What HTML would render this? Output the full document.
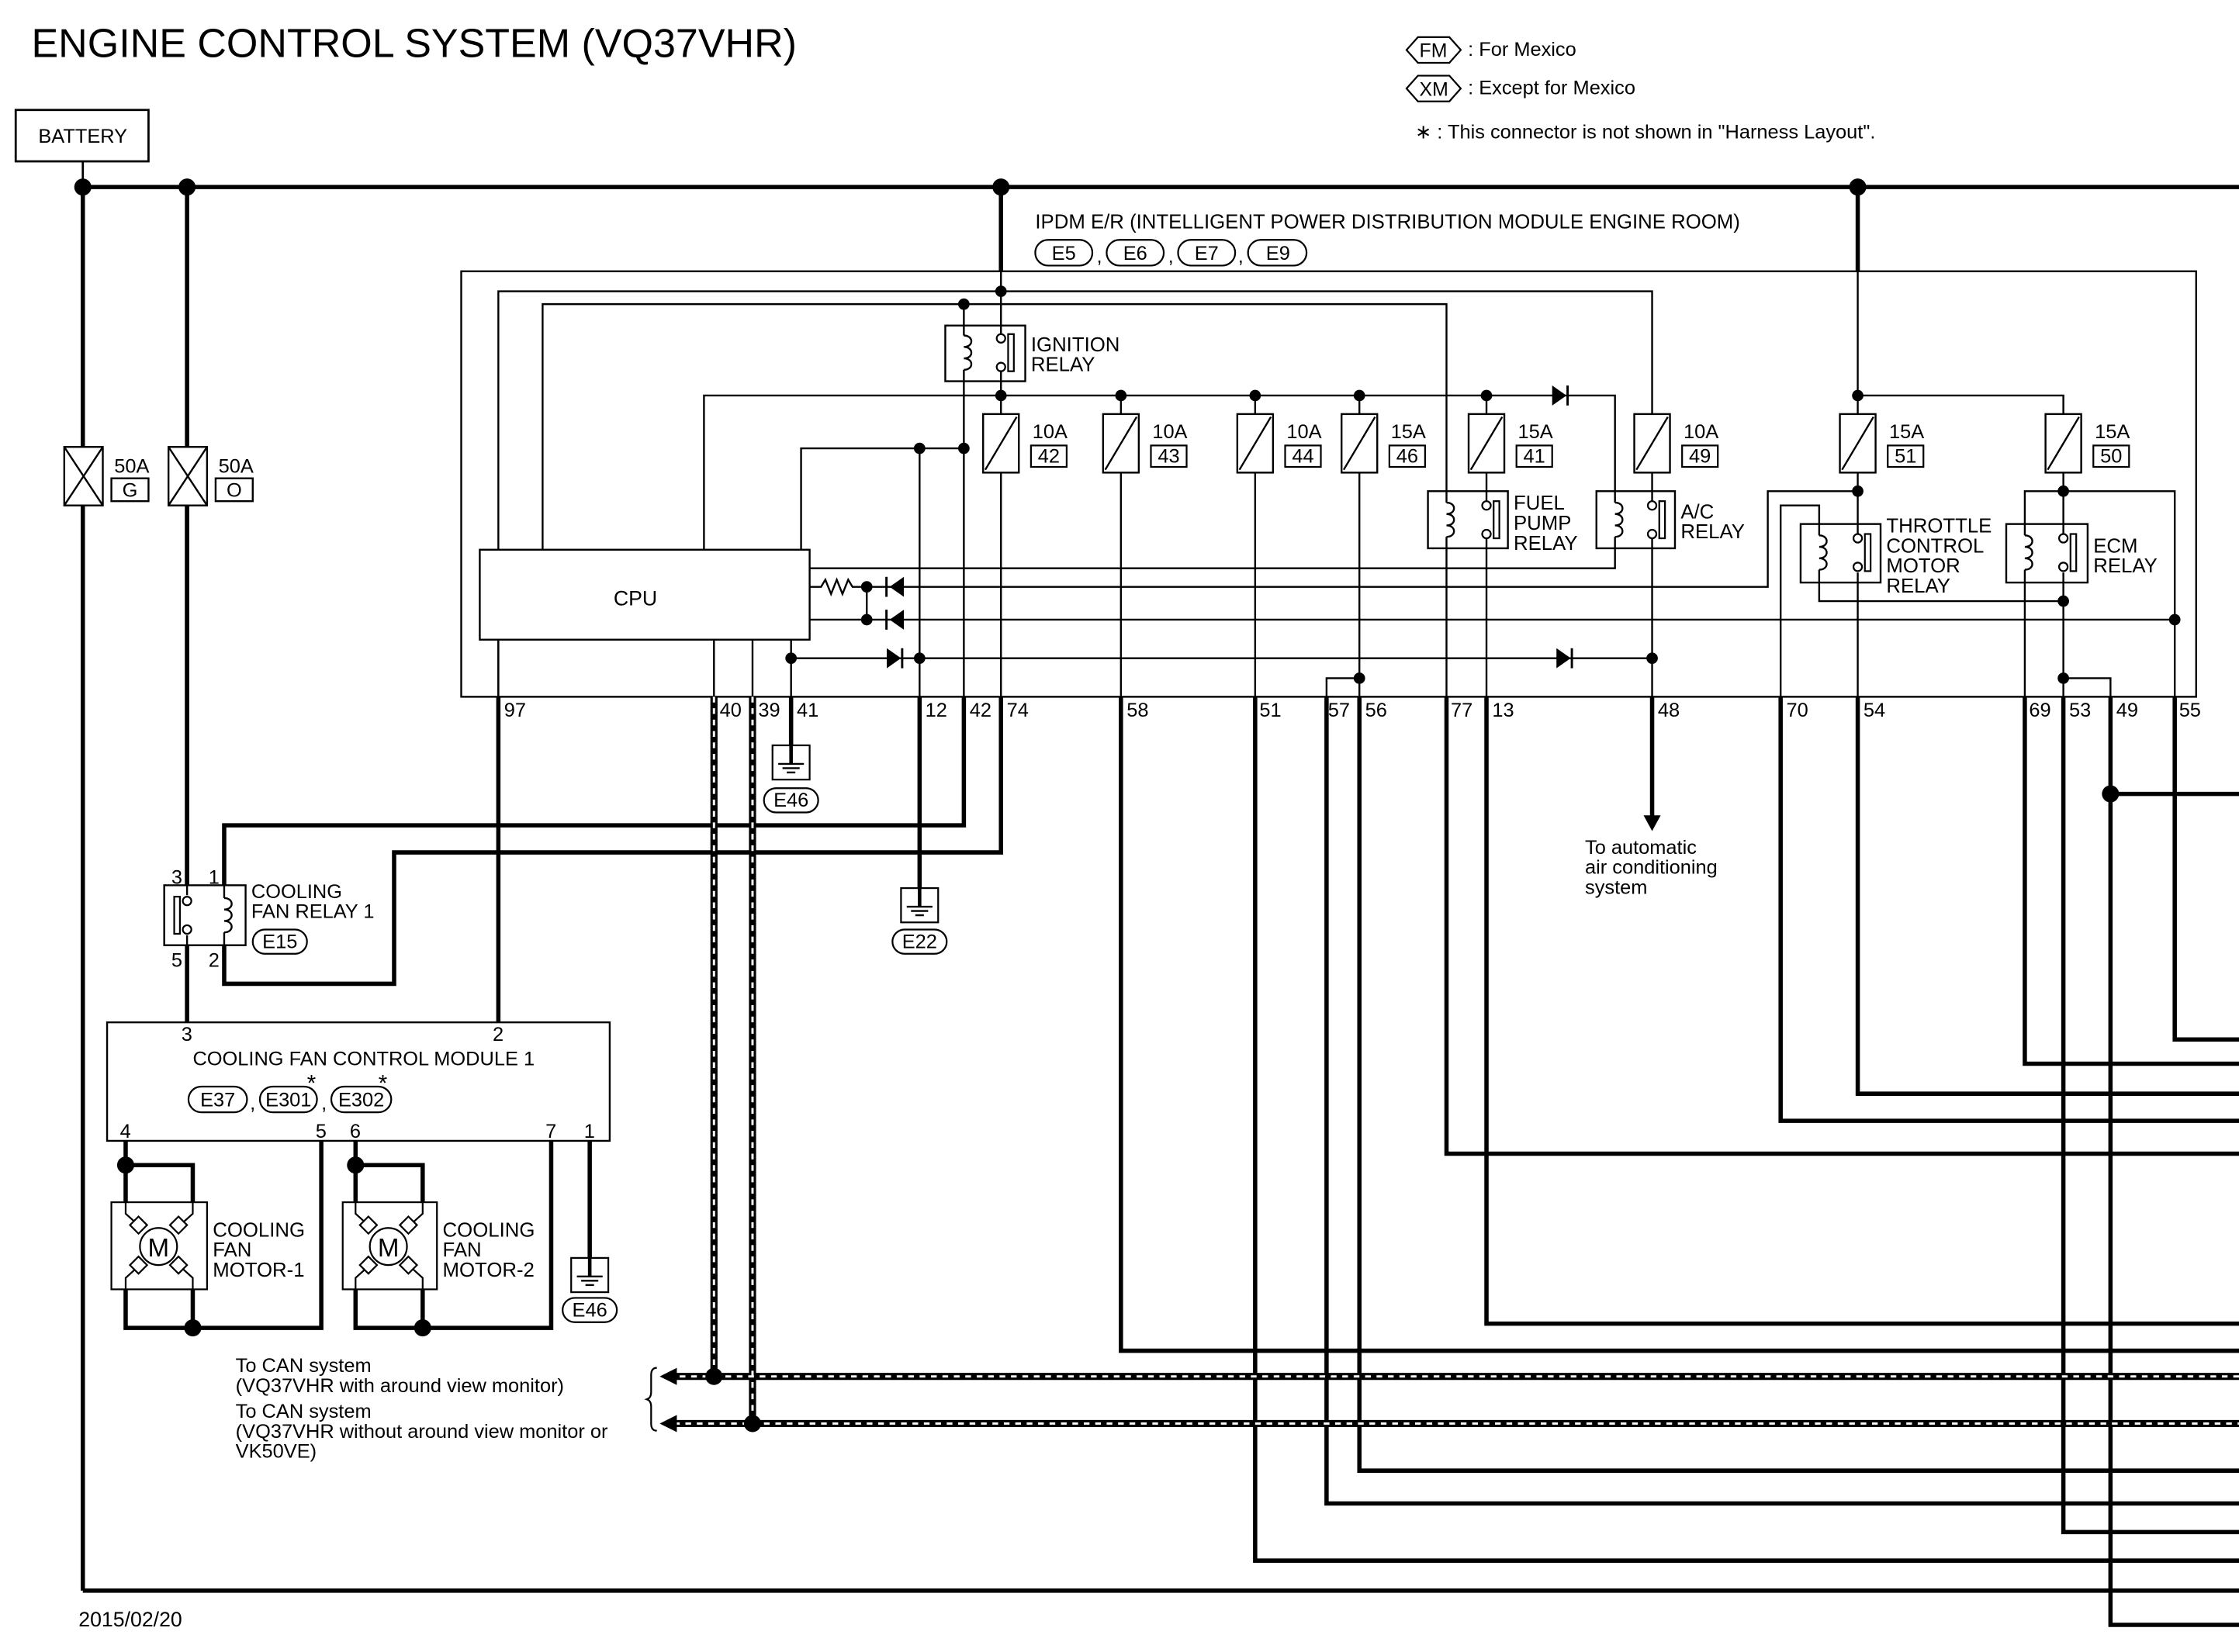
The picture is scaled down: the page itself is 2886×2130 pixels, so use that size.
<!DOCTYPE html>
<html><head><meta charset="utf-8"><style>
html,body{margin:0;padding:0;background:#fff;}
svg{display:block;}
text{font-family:"Liberation Sans",sans-serif;fill:#000;}
</style></head><body>
<svg xmlns="http://www.w3.org/2000/svg" width="2886" height="2130" viewBox="0 0 1568 1157" preserveAspectRatio="none">
<defs>
<g id="coil"><path d="M0,-12 c7,0 7,8 0,8 c7,0 7,8 0,8 c7,0 7,8 0,8" fill="none" stroke="#000" stroke-width="1.3"/></g>
<g id="sw"><circle cx="0" cy="-10" r="3" fill="#fff" stroke="#000" stroke-width="1.2"/><circle cx="0" cy="10" r="3" fill="#fff" stroke="#000" stroke-width="1.2"/><rect x="5" y="-13" width="4" height="26" fill="none" stroke="#000" stroke-width="1.2"/></g>
<g id="gnd"><rect x="-13" y="0" width="26" height="24" fill="#fff" stroke="#000" stroke-width="1.2"/><line x1="0" y1="-2" x2="0" y2="13" stroke="#000" stroke-width="2.5"/><line x1="-9" y1="13" x2="9" y2="13" stroke="#000" stroke-width="1.3"/><line x1="-6" y1="16" x2="6" y2="16" stroke="#000" stroke-width="1.3"/><line x1="-3" y1="19" x2="3" y2="19" stroke="#000" stroke-width="1.3"/></g>
<g id="fuse"><rect x="-12.5" y="0" width="25" height="41" fill="#fff" stroke="#000" stroke-width="1.3"/><line x1="-11" y1="39" x2="11" y2="2" stroke="#000" stroke-width="1.3"/></g>
</defs>

<!-- title / legend -->
<text x="22" y="40" font-size="28" textLength="536" lengthAdjust="spacingAndGlyphs">ENGINE CONTROL SYSTEM (VQ37VHR)</text>
<path d="M985,35 l8,-9 h22 l8,9 l-8,9 h-22z" fill="none" stroke="#000" stroke-width="1.2"/>
<text x="994" y="40" font-size="13.5">FM</text>
<text x="1028" y="39" font-size="13.8">: For Mexico</text>
<path d="M985,62 l8,-9 h22 l8,9 l-8,9 h-22z" fill="none" stroke="#000" stroke-width="1.2"/>
<text x="994" y="67" font-size="13.5">XM</text>
<text x="1028" y="66" font-size="13.8">: Except for Mexico</text>
<text x="991" y="97" font-size="13.8">∗ : This connector is not shown in "Harness Layout".</text>

<!-- battery -->
<rect x="11" y="77" width="93" height="36" fill="none" stroke="#000" stroke-width="1.5"/>
<text x="58" y="100" font-size="13.8" text-anchor="middle">BATTERY</text>

<g stroke="#000" stroke-width="3" fill="none">
<line x1="58" y1="131" x2="58" y2="1114"/>
<line x1="58" y1="131" x2="1568" y2="131"/>
<line x1="58" y1="1114" x2="1568" y2="1114"/>
<line x1="131" y1="131" x2="131" y2="620"/>
<line x1="701" y1="131" x2="701" y2="190"/>
<line x1="1301" y1="131" x2="1301" y2="190"/>
</g>
<line x1="58" y1="113" x2="58" y2="131" stroke="#000" stroke-width="1.5"/>
<g fill="#000">
<circle cx="58" cy="131" r="6"/><circle cx="131" cy="131" r="6"/><circle cx="701" cy="131" r="6"/><circle cx="1301" cy="131" r="6"/>
</g>
<!-- 50A fuses -->
<g stroke="#000" stroke-width="1.3" fill="#fff">
<rect x="45" y="313" width="27" height="41"/><line x1="45" y1="313" x2="72" y2="354"/><line x1="72" y1="313" x2="45" y2="354"/>
<rect x="118" y="313" width="27" height="41"/><line x1="118" y1="313" x2="145" y2="354"/><line x1="145" y1="313" x2="118" y2="354"/>
<rect x="78" y="335" width="26" height="16" fill="none"/><rect x="151" y="335" width="26" height="16" fill="none"/>
</g>
<text x="80" y="331" font-size="13.8">50A</text><text x="91" y="348" font-size="13.8" text-anchor="middle">G</text>
<text x="153" y="331" font-size="13.8">50A</text><text x="164" y="348" font-size="13.8" text-anchor="middle">O</text>

<!-- IPDM -->
<text x="725" y="160" font-size="14">IPDM E/R (INTELLIGENT POWER DISTRIBUTION MODULE ENGINE ROOM)</text>
<g stroke="#000" stroke-width="1.2" fill="none">
<rect x="725" y="168" width="40" height="18" rx="9"/><rect x="775" y="168" width="40" height="18" rx="9"/><rect x="825" y="168" width="40" height="18" rx="9"/><rect x="874" y="168" width="41" height="18" rx="9"/>
</g>
<text x="745" y="182" font-size="13.8" text-anchor="middle">E5</text><text x="768" y="184" font-size="13.8">,</text>
<text x="795" y="182" font-size="13.8" text-anchor="middle">E6</text><text x="818" y="184" font-size="13.8">,</text>
<text x="845" y="182" font-size="13.8" text-anchor="middle">E7</text><text x="867" y="184" font-size="13.8">,</text>
<text x="895" y="182" font-size="13.8" text-anchor="middle">E9</text>
<rect x="323" y="190" width="1215" height="298" fill="none" stroke="#000" stroke-width="1.3"/>

<!-- internal thin wiring -->
<g stroke="#000" stroke-width="1.3" fill="none">
<polyline points="349,488 349,204 1157,204 1157,290"/>
<polyline points="380,385 380,213 1013,213 1013,344"/>
<line x1="701" y1="190" x2="701" y2="228"/>
<line x1="675" y1="213" x2="675" y2="228"/>
<polyline points="493,385 493,277 1131,277 1131,344"/>
<line x1="701" y1="267" x2="701" y2="290"/>
<line x1="785" y1="277" x2="785" y2="290"/>
<line x1="879" y1="277" x2="879" y2="290"/>
<line x1="952" y1="277" x2="952" y2="290"/>
<line x1="1041" y1="277" x2="1041" y2="290"/>
<polyline points="561,385 561,314 675,314"/>
<line x1="675" y1="267" x2="675" y2="488"/>
<line x1="644" y1="314" x2="644" y2="488"/>
<line x1="701" y1="331" x2="701" y2="488"/>
<line x1="785" y1="331" x2="785" y2="488"/>
<line x1="879" y1="331" x2="879" y2="488"/>
<line x1="952" y1="331" x2="952" y2="488"/>
<line x1="1041" y1="331" x2="1041" y2="344"/>
<line x1="1041" y1="384" x2="1041" y2="488"/>
<line x1="1013" y1="384" x2="1013" y2="488"/>
<line x1="1157" y1="331" x2="1157" y2="344"/>
<line x1="1157" y1="384" x2="1157" y2="488"/>
<polyline points="1131,384 1131,398 567,398"/>
<polyline points="567,411 575,411 578,406 582,416 586,406 590,416 594,406 597,411 1238,411 1238,344 1301,344"/>
<line x1="607" y1="411" x2="607" y2="434"/>
<line x1="567" y1="434" x2="1523" y2="434"/>
<line x1="554" y1="448" x2="554" y2="488"/>
<line x1="554" y1="461" x2="1157" y2="461"/>
<polyline points="929,488 929,475 952,475"/>
<line x1="500" y1="448" x2="500" y2="488"/>
<line x1="527" y1="448" x2="527" y2="488"/>
<line x1="349" y1="448" x2="349" y2="488"/>
<polyline points="1301,190 1301,290"/>
<polyline points="1301,277 1445,277 1445,290"/>
<line x1="1301" y1="331" x2="1301" y2="367"/>
<line x1="1301" y1="408" x2="1301" y2="488"/>
<polyline points="1247,488 1247,354 1274,354 1274,367"/>
<polyline points="1274,408 1274,421 1445,421"/>
<line x1="1445" y1="331" x2="1445" y2="367"/>
<line x1="1445" y1="408" x2="1445" y2="488"/>
<polyline points="1418,488 1418,344 1523,344 1523,488"/>
<polyline points="1445,475 1478,475 1478,488"/>
</g>
<!-- diodes -->
<g fill="#000">
<path d="M1087,270 L1087,284 L1097,277z"/><rect x="1097" y="270" width="1.6" height="14"/>
<path d="M633,404 L633,418 L623,411z"/><rect x="620" y="404" width="1.6" height="14"/>
<path d="M633,427 L633,441 L623,434z"/><rect x="620" y="427" width="1.6" height="14"/>
<path d="M621,454 L621,468 L631,461z"/><rect x="631" y="454" width="1.6" height="14"/>
<path d="M1090,454 L1090,468 L1100,461z"/><rect x="1100" y="454" width="1.6" height="14"/>
</g>
<g fill="#000">
<circle cx="701" cy="204" r="4"/><circle cx="675" cy="213" r="4"/>
<circle cx="701" cy="277" r="4"/><circle cx="785" cy="277" r="4"/><circle cx="879" cy="277" r="4"/><circle cx="952" cy="277" r="4"/><circle cx="1041" cy="277" r="4"/>
<circle cx="644" cy="314" r="4"/><circle cx="675" cy="314" r="4"/>
<circle cx="607" cy="411" r="4"/><circle cx="607" cy="434" r="4"/>
<circle cx="554" cy="461" r="4"/><circle cx="644" cy="461" r="4"/><circle cx="1157" cy="461" r="4"/>
<circle cx="952" cy="475" r="4"/>
<circle cx="1301" cy="277" r="4"/><circle cx="1301" cy="344" r="4"/><circle cx="1445" cy="344" r="4"/>
<circle cx="1445" cy="421" r="4"/><circle cx="1523" cy="434" r="4"/><circle cx="1445" cy="475" r="4"/>
</g>
<!-- CPU -->
<rect x="336" y="385" width="231" height="63" fill="#fff" stroke="#000" stroke-width="1.3"/>
<text x="445" y="424" font-size="14.5" text-anchor="middle">CPU</text>

<!-- relays -->
<g stroke="#000" stroke-width="1.3" fill="#fff">
<rect x="662" y="228" width="56" height="39"/>
<rect x="1000" y="344" width="56" height="40"/>
<rect x="1118" y="344" width="55" height="40"/>
<rect x="1261" y="367" width="56" height="41"/>
<rect x="1405" y="367" width="57" height="41"/>
<rect x="115" y="620" width="57" height="42"/>
</g>
<g stroke="#000" stroke-width="1.3">
<line x1="675" y1="228" x2="675" y2="235"/><line x1="675" y1="259" x2="675" y2="267"/>
<line x1="701" y1="228" x2="701" y2="235"/><line x1="701" y1="260" x2="701" y2="267"/>
<line x1="1013" y1="344" x2="1013" y2="352"/><line x1="1013" y1="376" x2="1013" y2="384"/>
<line x1="1041" y1="344" x2="1041" y2="351"/><line x1="1041" y1="377" x2="1041" y2="384"/>
<line x1="1131" y1="344" x2="1131" y2="352"/><line x1="1131" y1="376" x2="1131" y2="384"/>
<line x1="1157" y1="344" x2="1157" y2="351"/><line x1="1157" y1="377" x2="1157" y2="384"/>
<line x1="1274" y1="367" x2="1274" y2="375"/><line x1="1274" y1="399" x2="1274" y2="408"/>
<line x1="1301" y1="367" x2="1301" y2="374"/><line x1="1301" y1="401" x2="1301" y2="408"/>
<line x1="1418" y1="367" x2="1418" y2="375"/><line x1="1418" y1="399" x2="1418" y2="408"/>
<line x1="1445" y1="367" x2="1445" y2="374"/><line x1="1445" y1="401" x2="1445" y2="408"/>
<line x1="157" y1="620" x2="157" y2="629"/><line x1="157" y1="653" x2="157" y2="662"/>
<line x1="131" y1="620" x2="131" y2="627"/><line x1="131" y1="655" x2="131" y2="662"/>
</g>
<use href="#coil" x="675" y="247"/><use href="#sw" x="701" y="247"/>
<use href="#coil" x="1013" y="364"/><use href="#sw" x="1041" y="364"/>
<use href="#coil" x="1131" y="364"/><use href="#sw" x="1157" y="364"/>
<use href="#coil" x="1274" y="387"/><use href="#sw" x="1301" y="387"/>
<use href="#coil" x="1418" y="387"/><use href="#sw" x="1445" y="387"/>
<use href="#coil" x="157" y="641"/>
<g transform="translate(131,641) scale(-1,1)"><use href="#sw"/></g>
<g font-size="14">
<text x="722" y="246">IGNITION</text><text x="722" y="260">RELAY</text>
<text x="1060" y="357">FUEL</text><text x="1060" y="371">PUMP</text><text x="1060" y="385">RELAY</text>
<text x="1177" y="363">A/C</text><text x="1177" y="377">RELAY</text>
<text x="1321" y="373">THROTTLE</text><text x="1321" y="387">CONTROL</text><text x="1321" y="401">MOTOR</text><text x="1321" y="415">RELAY</text>
<text x="1466" y="387">ECM</text><text x="1466" y="401">RELAY</text>
</g>

<!-- fuses -->
<use href="#fuse" x="701" y="290"/><use href="#fuse" x="785" y="290"/><use href="#fuse" x="879" y="290"/><use href="#fuse" x="952" y="290"/><use href="#fuse" x="1041" y="290"/><use href="#fuse" x="1157" y="290"/><use href="#fuse" x="1301" y="290"/><use href="#fuse" x="1445" y="290"/>
<g stroke="#000" stroke-width="1.2" fill="none">
<rect x="722" y="312" width="25" height="15"/><rect x="806" y="312" width="25" height="15"/><rect x="900" y="312" width="25" height="15"/><rect x="973" y="312" width="25" height="15"/><rect x="1062" y="312" width="25" height="15"/><rect x="1178" y="312" width="25" height="15"/><rect x="1322" y="312" width="25" height="15"/><rect x="1466" y="312" width="25" height="15"/>
</g>
<g font-size="13.8">
<text x="723" y="307">10A</text><text x="734.5" y="324" text-anchor="middle">42</text>
<text x="807" y="307">10A</text><text x="818.5" y="324" text-anchor="middle">43</text>
<text x="901" y="307">10A</text><text x="912.5" y="324" text-anchor="middle">44</text>
<text x="974" y="307">15A</text><text x="985.5" y="324" text-anchor="middle">46</text>
<text x="1063" y="307">15A</text><text x="1074.5" y="324" text-anchor="middle">41</text>
<text x="1179" y="307">10A</text><text x="1190.5" y="324" text-anchor="middle">49</text>
<text x="1323" y="307">15A</text><text x="1334.5" y="324" text-anchor="middle">51</text>
<text x="1467" y="307">15A</text><text x="1478.5" y="324" text-anchor="middle">50</text>
</g>

<!-- pin labels -->
<g font-size="13.8">
<text x="353" y="502">97</text><text x="504" y="502">40</text><text x="531" y="502">39</text><text x="558" y="502">41</text>
<text x="648" y="502">12</text><text x="679" y="502">42</text><text x="705" y="502">74</text><text x="789" y="502">58</text>
<text x="882" y="502">51</text><text x="930" y="502">57</text><text x="956" y="502">56</text><text x="1016" y="502">77</text>
<text x="1045" y="502">13</text><text x="1161" y="502">48</text><text x="1251" y="502">70</text><text x="1305" y="502">54</text>
<text x="1421" y="502">69</text><text x="1449" y="502">53</text><text x="1482" y="502">49</text><text x="1526" y="502">55</text>
</g>

<!-- external thick wiring -->
<g stroke="#000" stroke-width="3" fill="none">
<line x1="349" y1="488" x2="349" y2="716"/>
<line x1="554" y1="488" x2="554" y2="524"/>
<line x1="644" y1="488" x2="644" y2="624"/>
<polyline points="675,488 675,578 157,578 157,620"/>
<polyline points="701,488 701,597 276,597 276,689 157,689 157,662"/>
<line x1="131" y1="354" x2="131" y2="620"/>
<line x1="131" y1="662" x2="131" y2="716"/>
<polyline points="785,488 785,946 1568,946"/>
<polyline points="879,488 879,1093 1568,1093"/>
<polyline points="929,488 929,1053 1568,1053"/>
<polyline points="952,488 952,1030 1568,1030"/>
<polyline points="1013,488 1013,808 1568,808"/>
<polyline points="1041,488 1041,927 1568,927"/>
<line x1="1157" y1="488" x2="1157" y2="572"/>
<polyline points="1247,488 1247,785 1568,785"/>
<polyline points="1301,488 1301,766 1568,766"/>
<polyline points="1418,488 1418,745 1568,745"/>
<polyline points="1445,488 1445,1073 1568,1073"/>
<polyline points="1478,488 1478,1138 1568,1138"/>
<line x1="1478" y1="556" x2="1568" y2="556"/>
<polyline points="1523,488 1523,728 1568,728"/>
</g>
<circle cx="1478" cy="556" r="6" fill="#000"/>
<path d="M1151,571 L1163,571 L1157,582z" fill="#000"/>
<text x="1110" y="598" font-size="13.8">To automatic</text>
<text x="1110" y="612" font-size="13.8">air conditioning</text>
<text x="1110" y="626" font-size="13.8">system</text>

<!-- CAN lines -->
<g fill="none">
<polyline points="500,488 500,964 470,964" stroke="#000" stroke-width="5"/>
<line x1="500" y1="964" x2="1568" y2="964" stroke="#000" stroke-width="5"/>
<polyline points="527,488 527,997 470,997" stroke="#000" stroke-width="5"/>
<line x1="527" y1="997" x2="1568" y2="997" stroke="#000" stroke-width="5"/>
<g stroke="#fff" stroke-width="1.6" stroke-dasharray="4,4">
<polyline points="500,488 500,964 470,964"/><line x1="500" y1="964" x2="1568" y2="964"/>
<polyline points="527,488 527,997 470,997"/><line x1="527" y1="997" x2="1568" y2="997"/>
</g>
</g>
<path d="M462,964 L474,958 L474,970z M462,997 L474,991 L474,1003z" fill="#000"/>
<circle cx="500" cy="964" r="6" fill="#000"/><circle cx="527" cy="997" r="6" fill="#000"/>
<path d="M460,958 q-4,0 -4,5 v12 q0,4 -3,5 q3,1 3,5 v12 q0,5 4,5" fill="none" stroke="#000" stroke-width="1.2"/>
<g font-size="13.8">
<text x="165" y="961">To CAN system</text>
<text x="165" y="975">(VQ37VHR with around view monitor)</text>
<text x="165" y="993">To CAN system</text>
<text x="165" y="1007">(VQ37VHR without around view monitor or</text>
<text x="165" y="1021">VK50VE)</text>
</g>

<!-- grounds -->
<use href="#gnd" x="554" y="522"/>
<rect x="535" y="552" width="38" height="17" rx="8.5" fill="none" stroke="#000" stroke-width="1.2"/>
<text x="554" y="565" font-size="13.8" text-anchor="middle">E46</text>
<use href="#gnd" x="644" y="622"/>
<rect x="625" y="651" width="38" height="17" rx="8.5" fill="none" stroke="#000" stroke-width="1.2"/>
<text x="644" y="664" font-size="13.8" text-anchor="middle">E22</text>
<use href="#gnd" x="413" y="881"/>
<rect x="394" y="909" width="38" height="17" rx="8.5" fill="none" stroke="#000" stroke-width="1.2"/>
<text x="413" y="922" font-size="13.8" text-anchor="middle">E46</text>

<!-- cooling fan relay labels -->
<g font-size="13.8">
<text x="120" y="619">3</text><text x="146" y="619">1</text><text x="120" y="677">5</text><text x="146" y="677">2</text>
<text x="176" y="629">COOLING</text><text x="176" y="643">FAN RELAY 1</text>
</g>
<rect x="177" y="651" width="38" height="17" rx="8.5" fill="none" stroke="#000" stroke-width="1.2"/>
<text x="196" y="664" font-size="13.8" text-anchor="middle">E15</text>

<!-- module -->
<rect x="75" y="716" width="352" height="83" fill="none" stroke="#000" stroke-width="1.3"/>
<g font-size="13.8">
<text x="127" y="729">3</text><text x="345" y="729">2</text>
<text x="135" y="746">COOLING FAN CONTROL MODULE 1</text>
<text x="84" y="797">4</text><text x="221" y="797">5</text><text x="245" y="797">6</text><text x="382" y="797">7</text><text x="409" y="797">1</text>
</g>
<text x="215" y="764" font-size="16">*</text><text x="265" y="764" font-size="16">*</text>
<g stroke="#000" stroke-width="1.2" fill="none">
<rect x="132" y="761" width="41" height="18" rx="9"/><rect x="182" y="761" width="40" height="18" rx="9"/><rect x="232" y="761" width="42" height="18" rx="9"/>
</g>
<text x="152.5" y="775" font-size="13.8" text-anchor="middle">E37</text><text x="175" y="777" font-size="13.8">,</text>
<text x="202" y="775" font-size="13.8" text-anchor="middle">E301</text><text x="225" y="777" font-size="13.8">,</text>
<text x="253" y="775" font-size="13.8" text-anchor="middle">E302</text>

<!-- motors -->
<g stroke="#000" stroke-width="3" fill="none">
<polyline points="88,799 88,842"/><polyline points="88,816 135,816 135,842"/>
<polyline points="88,903 88,930 225,930 225,799"/><line x1="135" y1="903" x2="135" y2="930"/>
<polyline points="249,799 249,842"/><polyline points="249,816 296,816 296,842"/>
<polyline points="249,903 249,930 386,930 386,799"/><line x1="296" y1="903" x2="296" y2="930"/>
<line x1="413" y1="799" x2="413" y2="881"/>
</g>
<g fill="#000"><circle cx="88" cy="816" r="6"/><circle cx="135" cy="930" r="6"/><circle cx="249" cy="816" r="6"/><circle cx="296" cy="930" r="6"/></g>
<g stroke="#000" stroke-width="1.2" fill="#fff">
<rect x="78" y="842" width="67" height="61"/><rect x="240" y="842" width="66" height="61"/>
</g>
<g stroke="#000" stroke-width="1.2" fill="none">
<path d="M88,842 v8 l10,9 M135,842 v8 l-10,9 M88,903 v-8 l10,-9 M135,903 v-8 l-10,-9"/>
<path d="M249,842 v8 l10,9 M296,842 v8 l-10,9 M249,903 v-8 l10,-9 M296,903 v-8 l-10,-9"/>
<path d="M97,852 l6,6 l-6,6 l-6,-6z M125,852 l6,6 l-6,6 l-6,-6z M97,880 l6,6 l-6,6 l-6,-6z M125,880 l6,6 l-6,6 l-6,-6z" fill="#fff"/>
<path d="M258,852 l6,6 l-6,6 l-6,-6z M286,852 l6,6 l-6,6 l-6,-6z M258,880 l6,6 l-6,6 l-6,-6z M286,880 l6,6 l-6,6 l-6,-6z" fill="#fff"/>
<circle cx="111" cy="873" r="13" fill="#fff"/><circle cx="272" cy="873" r="13" fill="#fff"/>
</g>
<text x="111" y="880" font-size="18" text-anchor="middle">M</text>
<text x="272" y="880" font-size="18" text-anchor="middle">M</text>
<g font-size="14">
<text x="149" y="866">COOLING</text><text x="149" y="880">FAN</text><text x="149" y="894">MOTOR-1</text>
<text x="310" y="866">COOLING</text><text x="310" y="880">FAN</text><text x="310" y="894">MOTOR-2</text>
</g>

<text x="55" y="1139" font-size="14.5">2015/02/20</text>
</svg>
</body></html>
